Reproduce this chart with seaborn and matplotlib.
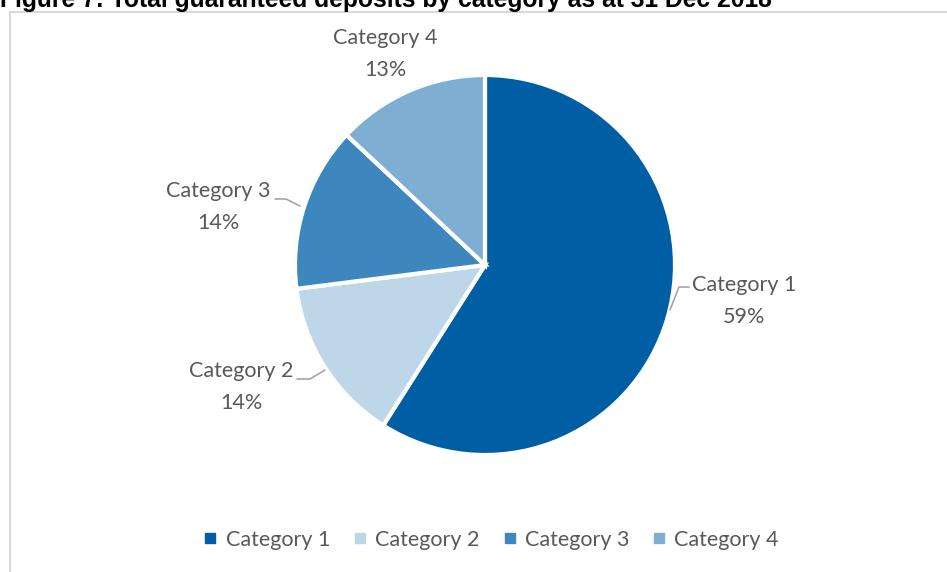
import matplotlib
matplotlib.use("Agg")
import matplotlib.pyplot as plt
from matplotlib.patches import Rectangle
from matplotlib.lines import Line2D
import seaborn as sns

sns.set_theme(style="white")
plt.rcParams['font.family'] = ['Lato', 'DejaVu Sans']

# data
categories = ["Category 1", "Category 2", "Category 3", "Category 4"]
shares = [59, 14, 14, 13]
colours = ["#005ea5", "#bdd7e9", "#3d87be", "#7eafd3"]
title = "Figure 7: Total guaranteed deposits by category as at 31 Dec 2018"

W, H = 947, 572
fig = plt.figure(figsize=(W / 100, H / 100), dpi=100)
ax = fig.add_axes([0, 0, 1, 1])
ax.set_xlim(0, W)
ax.set_ylim(0, H)
ax.set_aspect("equal")
ax.axis("off")

# chart frame (cut by the page edge on the right and bottom)
fig.patches.append(Rectangle((10 / W, -0.05), 1.1, 1 - 12 / H + 0.05,
                             transform=fig.transFigure, fill=False,
                             edgecolor="#d9d9d9", linewidth=1.5))

# title, partly cut off at the top as in the source page
fig.text(0 / W, 1 - 7 / H, title, ha="left", va="baseline",
         fontsize=17.7, fontweight="bold", color="black",
         family=["Liberation Sans", "DejaVu Sans"])

cx, cy, r = 485, H - 265, 190
wedges, _ = ax.pie(shares, colors=colours, startangle=90, counterclock=False,
                   center=(cx, cy), radius=r,
                   wedgeprops=dict(edgecolor="white", linewidth=3))
ax.set_xlim(0, W)
ax.set_ylim(0, H)

grey = "#595959"
txt = dict(fontsize=15.5, color=grey, ha="center", va="center", linespacing=1.7)
# label positions (pixel space) and leader lines
label_pos = [(744, 301), (241, 387), (218, 207), (385, 54)]
leaders = [
    [(670, 310), (679, 287), (689, 287)],
    [(297, 379), (310, 379), (325, 370)],
    [(275, 199), (286, 199), (300, 206)],
    None,
]
for cat, val, (lx, ly), ld in zip(categories, shares, label_pos, leaders):
    ax.text(lx, H - ly, f"{cat}\n{val}%", **txt)
    if ld:
        xs = [p[0] for p in ld]
        ys = [H - p[1] for p in ld]
        ax.plot(xs, ys, color="#a6a6a6", linewidth=1.2)

handles = [Line2D([0], [0], marker="s", linestyle="", markersize=6.5,
                  markerfacecolor=c, markeredgecolor=c) for c in colours]
leg = fig.legend(handles, categories, loc="center", ncol=4,
                 bbox_to_anchor=(492 / W, 1 - 540 / H), frameon=False,
                 fontsize=15.5, handlelength=0.5, handletextpad=0.45,
                 columnspacing=1.15)
for t in leg.get_texts():
    t.set_color(grey)

fig.savefig("out.png", dpi=100)
